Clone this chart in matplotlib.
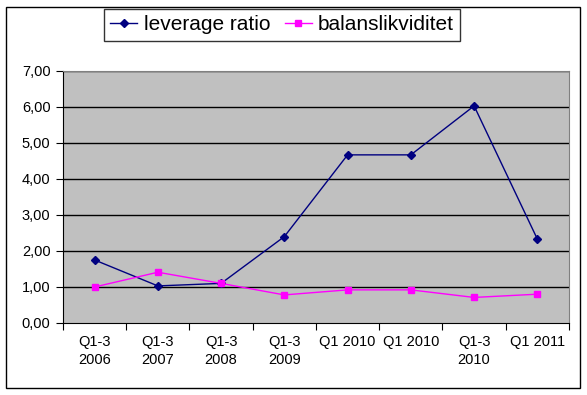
import matplotlib
matplotlib.use("Agg")
import matplotlib.pyplot as plt
from matplotlib.patches import Rectangle

plt.rcParams['font.family'] = ['Liberation Sans', 'DejaVu Sans']

categories = ["Q1-3\n2006", "Q1-3\n2007", "Q1-3\n2008", "Q1-3\n2009",
              "Q1 2010", "Q1 2010", "Q1-3\n2010", "Q1 2011"]
leverage = [1.75, 1.03, 1.10, 2.40, 4.67, 4.67, 6.03, 2.33]
balans = [1.00, 1.41, 1.10, 0.78, 0.92, 0.92, 0.71, 0.80]
yticks = [0, 1, 2, 3, 4, 5, 6, 7]

fig = plt.figure(figsize=(5.87, 3.95), dpi=100)
ax = fig.add_axes([0.1073, 0.1823, 0.862, 0.638])
ax.set_facecolor('#C0C0C0')

x = list(range(len(categories)))
ax.plot(x, leverage, color='#000080', lw=1, marker='D', ms=4,
        label='leverage ratio', zorder=3)
ax.plot(x, balans, color='#FF00FF', lw=1, marker='s', ms=5,
        label='balanslikviditet', zorder=3)

ax.set_ylim(0, 7)
ax.set_xlim(-0.5, len(categories) - 0.5)
ax.set_yticks(yticks)
ax.set_yticklabels([f"{v:.2f}".replace('.', ',') for v in yticks], fontsize=10.5)
for v in yticks[1:]:
    ax.axhline(v, color='black', lw=1, zorder=1)

# category ticks between labels, labels centred
ax.set_xticks([i - 0.5 for i in range(len(categories) + 1)])
ax.set_xticklabels([])
ax.set_xticks(x, minor=True)
ax.set_xticklabels(categories, minor=True, fontsize=10.5, linespacing=1.35)
ax.tick_params(axis='x', which='major', direction='out', length=5, color='black')
ax.tick_params(axis='x', which='minor', length=0, pad=9)
ax.tick_params(axis='y', direction='out', length=5, pad=4)

for s in ['top', 'right']:
    ax.spines[s].set_color('#808080')
for s in ['left', 'bottom']:
    ax.spines[s].set_color('black')

leg = fig.legend(loc='upper left', bbox_to_anchor=(104 / 587, 1 - 9 / 395),
                 ncol=2, fontsize=15, frameon=True, fancybox=False,
                 edgecolor='black', handlelength=1.3, handletextpad=0.3,
                 columnspacing=0.7, borderpad=0.3, borderaxespad=0,
                 markerscale=0.9)
leg.get_frame().set_linewidth(1)

fig.patches.append(Rectangle((6 / 587, 7 / 395), 574 / 587, 381 / 395,
                             transform=fig.transFigure, fill=False,
                             edgecolor='black', lw=1))

fig.savefig('out.png', dpi=100)
